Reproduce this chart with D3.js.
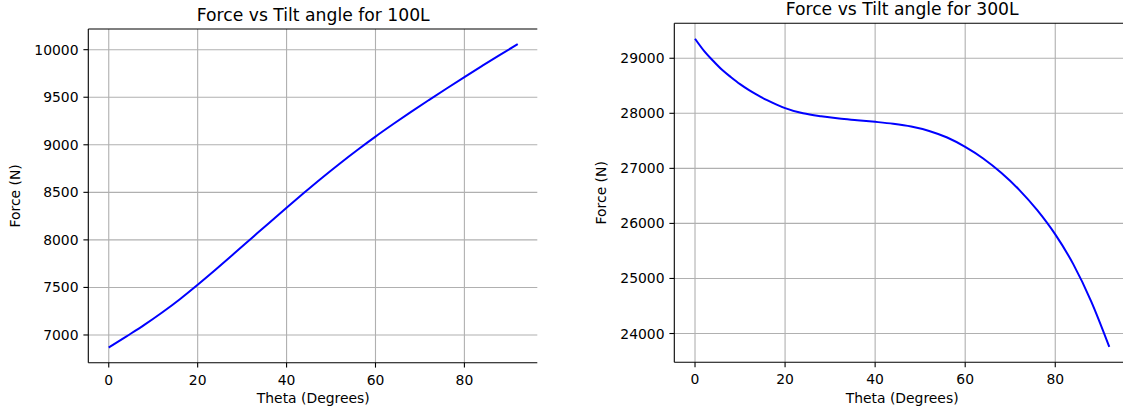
<!DOCTYPE html>
<html>
<head>
<meta charset="utf-8">
<script src="https://cdn.jsdelivr.net/npm/d3@7"></script>
<style>
  body { margin: 0; background: #fff; }
  text { font-family: "DejaVu Sans", sans-serif; fill: #000; }
</style>
</head>
<body>
<div class="canva"></div>
<script>
// values
const theta100 = [0, 4, 8, 12, 16, 20, 24, 28, 32, 36, 40, 44, 48, 52, 56, 60, 64, 68, 72, 76, 80, 84, 88, 92];
const force100 = [6868, 6986, 7106, 7236, 7376, 7528, 7686, 7848, 8012, 8176, 8338, 8498, 8654, 8804, 8948, 9086,
                  9218, 9346, 9470, 9592, 9712, 9830, 9946, 10058];

const theta300 = [0, 2, 4, 6, 8, 10, 12, 14, 16, 18, 20, 24, 28, 32, 36, 40, 44, 48, 52, 56, 60, 64, 68, 72, 76, 80, 84, 88, 92];
const force300 = [29355, 29135, 28955, 28790, 28655, 28529, 28420, 28325, 28240, 28163, 28094, 28000, 27945, 27905, 27875,
                  27845, 27810, 27760, 27680, 27560, 27390, 27180, 26920, 26610, 26240, 25800, 25260, 24580, 23757];

const xTicks = [0, 20, 40, 60, 80];
const yTicks100 = [7000, 7500, 8000, 8500, 9000, 9500, 10000];
const yTicks300 = [24000, 25000, 26000, 27000, 28000, 29000];

const W = 1123, H = 414;
const tickLen = 4.9, tickPad = 4.9;

const svg = d3.select('.canva').append('svg')
    .attr('width', W)
    .attr('height', H);

function drawPanel(p) {
  const data = p.theta.map((t, i) => ({ t: t, f: p.force[i] }));

  // matplotlib-like 5% margins
  const tx = d3.extent(p.theta), fy = d3.extent(p.force);
  const mx = (tx[1] - tx[0]) * 0.05, my = (fy[1] - fy[0]) * 0.05;

  const x = d3.scaleLinear().domain([tx[0] - mx, tx[1] + mx]).range([p.left, p.right]);
  const y = d3.scaleLinear().domain([fy[0] - my, fy[1] + my]).range([p.bottom, p.top]);

  const g = svg.append('g');
  const visRight = Math.min(p.right, p.clipRight);

  // grid
  g.selectAll('.vgrid').data(p.xTicks).enter().append('line')
    .attr('x1', d => x(d)).attr('x2', d => x(d))
    .attr('y1', p.top).attr('y2', p.bottom)
    .attr('stroke', '#b0b0b0').attr('stroke-width', 1.1);
  g.selectAll('.hgrid').data(p.yTicks).enter().append('line')
    .attr('x1', p.left).attr('x2', visRight)
    .attr('y1', d => y(d)).attr('y2', d => y(d))
    .attr('stroke', '#b0b0b0').attr('stroke-width', 1.1);

  // the curve
  const line = d3.line()
    .x(d => x(d.t))
    .y(d => y(d.f))
    .curve(d3.curveMonotoneX);
  g.append('path')
    .datum(data)
    .attr('d', line)
    .attr('fill', 'none')
    .attr('stroke', '#0000ff')
    .attr('stroke-width', 2);

  // spines (right edge is cut off in the picture)
  g.append('line').attr('x1', p.left).attr('x2', p.left).attr('y1', p.top).attr('y2', p.bottom)
    .attr('stroke', '#000').attr('stroke-width', 1.1);
  g.append('line').attr('x1', p.left).attr('x2', visRight).attr('y1', p.top).attr('y2', p.top)
    .attr('stroke', '#000').attr('stroke-width', 1.1);
  g.append('line').attr('x1', p.left).attr('x2', visRight).attr('y1', p.bottom).attr('y2', p.bottom)
    .attr('stroke', '#000').attr('stroke-width', 1.1);

  // x ticks
  g.selectAll('.xt').data(p.xTicks).enter().append('line')
    .attr('x1', d => x(d)).attr('x2', d => x(d))
    .attr('y1', p.bottom).attr('y2', p.bottom + tickLen)
    .attr('stroke', '#000').attr('stroke-width', 1.1);
  g.selectAll('.xl').data(p.xTicks).enter().append('text')
    .attr('x', d => x(d))
    .attr('y', p.bottom + 22)
    .attr('text-anchor', 'middle')
    .attr('font-size', 13.9)
    .text(d => d);

  // y ticks
  g.selectAll('.yt').data(p.yTicks).enter().append('line')
    .attr('x1', p.left - tickLen).attr('x2', p.left)
    .attr('y1', d => y(d)).attr('y2', d => y(d))
    .attr('stroke', '#000').attr('stroke-width', 1.1);
  g.selectAll('.yl').data(p.yTicks).enter().append('text')
    .attr('x', p.left - tickLen - tickPad)
    .attr('y', d => y(d))
    .attr('dy', '0.36em')
    .attr('text-anchor', 'end')
    .attr('font-size', 13.9)
    .text(d => d);

  // labels + title
  const cx = (p.left + p.right) / 2, cy = (p.top + p.bottom) / 2;
  g.append('text')
    .attr('x', cx).attr('y', p.bottom + 40.5)
    .attr('text-anchor', 'middle')
    .attr('font-size', 13.9)
    .text('Theta (Degrees)');
  g.append('text')
    .attr('transform', `translate(${p.ylabelX},${cy}) rotate(-90)`)
    .attr('text-anchor', 'middle')
    .attr('font-size', 13.9)
    .text('Force (N)');
  g.append('text')
    .attr('x', cx).attr('y', p.top - 8)
    .attr('text-anchor', 'middle')
    .attr('font-size', 17.2)
    .text(p.title);
}

drawPanel({
  theta: theta100, force: force100, xTicks: xTicks, yTicks: yTicks100,
  left: 88.3, right: 538.2, top: 29, bottom: 362.7, clipRight: 537.3,
  ylabelX: 20, title: 'Force vs Tilt angle for 100L'
});

drawPanel({
  theta: theta300, force: force300, xTicks: xTicks, yTicks: yTicks300,
  left: 674.3, right: 1130, top: 23.3, bottom: 362.3, clipRight: 1130,
  ylabelX: 606, title: 'Force vs Tilt angle for 300L'
});
</script>
</body>
</html>
